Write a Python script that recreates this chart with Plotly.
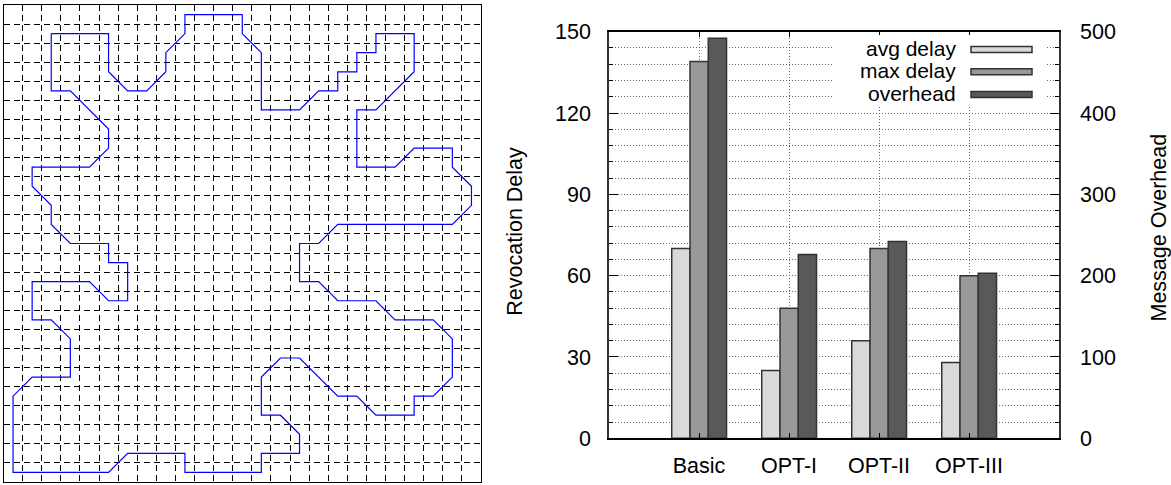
import plotly.graph_objects as go

# ---------------- data ----------------
# left panel: closed path through grid cell centres (column, row from top)
path_col = [2, 5, 5, 6, 7, 8, 8, 9, 9, 12, 12, 13, 13, 15, 16, 17, 17, 18, 18, 19, 19, 21, 21, 19, 18, 18, 20, 21, 23, 23,
            24, 24, 23, 17, 16, 15, 15, 16, 17, 19, 20, 22, 23, 23, 22, 21, 21, 19, 18, 17, 15, 14, 13, 13, 14, 15, 15, 13,
            13, 9, 9, 6, 5, 0, 0, 1, 3, 3, 2, 1, 1, 4, 5, 6, 6, 5, 5, 3, 2, 2, 1, 1, 4, 5, 5, 3, 2, 2]
path_row = [1, 1, 3, 4, 4, 3, 2, 1, 0, 0, 1, 2, 5, 5, 4, 4, 3, 3, 2, 2, 1, 1, 3, 5, 5, 8, 8, 7, 7, 8,
            9, 10, 11, 11, 12, 12, 14, 14, 15, 15, 16, 16, 17, 19, 20, 20, 21, 21, 20, 20, 18, 18, 19, 21, 21, 22, 23, 23,
            24, 24, 23, 23, 24, 24, 20, 19, 19, 17, 16, 16, 14, 14, 15, 15, 13, 13, 12, 12, 11, 10, 9, 8, 8, 7, 6, 4, 4, 1]
grid_cells = 25

# right panel: bar chart
categories = ["Basic", "OPT-I", "OPT-II", "OPT-III"]
avg_delay = [70, 25, 36, 28]
max_delay = [139, 48, 70, 60]
overhead = [492, 226, 242, 203]
series_names = ["avg delay", "max delay", "overhead"]
series_colors = ["#d9d9d9", "#999999", "#595959"]
delay_ticks = [0, 30, 60, 90, 120, 150]
overhead_ticks = [0, 100, 200, 300, 400, 500]

FONT = "Liberation Sans, Arial, sans-serif"
W, H = 1171, 485

fig = go.Figure()

# ---------- left panel ----------
fig.add_trace(go.Scatter(
    x=[c + 0.5 for c in path_col], y=[r + 0.5 for r in path_row],
    mode="lines", line=dict(color="#0000ff", width=1.2),
    xaxis="x", yaxis="y", showlegend=False, hoverinfo="skip"))

grid_common = dict(showgrid=True, gridcolor="#000000", gridwidth=1, griddash="6px,4px",
                   dtick=1, tick0=0, showticklabels=False, ticks="", zeroline=False,
                   showline=True, linecolor="#000000", linewidth=1.2, mirror=True,
                   automargin=False)
fig.update_layout(
    xaxis=dict(domain=[3.5 / W, 481 / W], range=[0, grid_cells], anchor="y", **grid_common),
    yaxis=dict(domain=[(H - 482) / H, (H - 5) / H], range=[grid_cells, 0], anchor="x", **grid_common),
)

# ---------- right panel ----------
xs = [i + 1 for i in range(len(categories))]
bw = 0.203
offsets = [-0.303, -0.1, 0.103]
for name, vals, col, off, ax in zip(series_names, [avg_delay, max_delay, overhead], series_colors, offsets,
                                     ["y2", "y2", "y3"]):
    fig.add_trace(go.Bar(x=xs, y=vals, name=name, width=bw, offset=off,
                         marker=dict(color=col, line=dict(color="#333333", width=1.5)),
                         xaxis="x2", yaxis=ax, showlegend=False))

dotgrid = dict(gridcolor="#666666", gridwidth=1, griddash="1px,2px")
tickfont = dict(family=FONT, size=21.5, color="#000000")
x0, x1 = 609, 1059
ytop, ybot = 31.7, 438.3
fig.update_layout(
    barmode="overlay",
    xaxis2=dict(domain=[x0 / W, x1 / W], range=[0, 5], anchor="y2",
                tickvals=xs, ticktext=categories, tickfont=tickfont,
                showgrid=True, **dotgrid, zeroline=False,
                ticks="inside", ticklen=6, tickcolor="#000000",
                showline=True, linecolor="#000000", linewidth=1.5, mirror="ticks",
                ticklabelstandoff=7, automargin=False),
    yaxis2=dict(domain=[(H - ybot) / H, (H - ytop) / H], range=[0, 150], anchor="x2",
                tickvals=delay_ticks, tickfont=tickfont,
                showgrid=True, **dotgrid, zeroline=False,
                ticks="inside", ticklen=9, tickcolor="#000000",
                minor=dict(dtick=6, ticks="inside", ticklen=4, tickcolor="#000000",
                           showgrid=True, **dotgrid),
                showline=True, linecolor="#333333", linewidth=1.5,
                ticklabelstandoff=12, automargin=False),
    yaxis3=dict(range=[0, 500], overlaying="y2", side="right", anchor="x2",
                tickvals=overhead_ticks, tickfont=tickfont, showgrid=False, zeroline=False,
                ticks="inside", ticklen=9, tickcolor="#000000",
                minor=dict(dtick=20, ticks="inside", ticklen=4, tickcolor="#000000", showgrid=False),
                showline=True, linecolor="#333333", linewidth=1.5,
                ticklabelstandoff=15, automargin=False),
)

# axis titles
fig.add_annotation(text="Revocation Delay", x=515 / W, y=1 - 231.7 / H, xref="paper", yref="paper",
                   textangle=-90, showarrow=False, xanchor="center", yanchor="middle",
                   font=dict(family=FONT, size=21.5, color="#000000"))
fig.add_annotation(text="Message Overhead", x=1158 / W, y=1 - 227.5 / H, xref="paper", yref="paper",
                   textangle=-90, showarrow=False, xanchor="center", yanchor="middle",
                   font=dict(family=FONT, size=21.5, color="#000000"))

# legend (text on the left, swatch on the right)
fig.add_shape(type="rect", xref="paper", yref="paper", x0=833 / W, x1=1045 / W,
              y0=1 - 106 / H, y1=1 - 35 / H, fillcolor="#ffffff", line=dict(width=0), layer="above")
row_y = [49.5, 71.7, 94.5]
for name, col, ry in zip(series_names, series_colors, row_y):
    fig.add_annotation(text=name, x=957 / W, y=1 - (ry - 1) / H, xref="paper", yref="paper",
                       showarrow=False, xanchor="right", yanchor="middle", borderpad=0,
                       font=dict(family=FONT, size=21, color="#000000"))
    fig.add_shape(type="rect", xref="paper", yref="paper", x0=971 / W, x1=1032 / W,
                  y0=1 - (ry + 3) / H, y1=1 - (ry - 3) / H, fillcolor=col,
                  line=dict(color="#333333", width=1.5), layer="above")

fig.update_layout(width=W, height=H, margin=dict(l=0, r=0, t=0, b=0, autoexpand=False),
                  paper_bgcolor="#ffffff", plot_bgcolor="#ffffff",
                  font=dict(family=FONT, color="#000000"))

fig.write_html("out.html")
